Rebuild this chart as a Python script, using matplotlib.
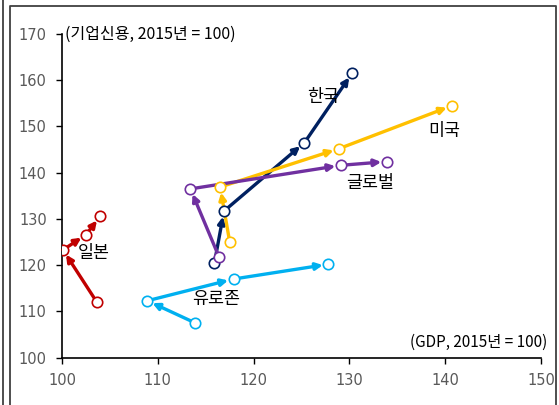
import matplotlib.pyplot as plt
from matplotlib.lines import Line2D

plt.rcParams['font.family'] = ['DejaVu Sans', 'Noto Sans CJK KR']
KR = ['Noto Sans CJK KR', 'DejaVu Sans']

# GDP (x) vs corporate credit (y), 2015 = 100
korea_x = [115.9, 116.9, 125.3, 130.3]
korea_y = [120.4, 131.7, 146.5, 161.6]
usa_x = [117.5, 116.5, 128.9, 140.7]
usa_y = [125.0, 136.9, 145.2, 154.5]
global_x = [116.4, 113.4, 129.1, 133.9]
global_y = [121.7, 136.5, 141.6, 142.4]
japan_x = [103.6, 100.1, 102.5, 104.0]
japan_y = [112.1, 123.3, 126.6, 130.6]
euro_x = [113.9, 108.9, 117.9, 127.8]
euro_y = [107.5, 112.3, 117.0, 120.2]

series = [
    ('한국', korea_x, korea_y, '#002060', (127.2, 156.4)),
    ('미국', usa_x, usa_y, '#FFC000', (139.9, 149.1)),
    ('글로벌', global_x, global_y, '#7030A0', (132.2, 137.8)),
    ('일본', japan_x, japan_y, '#C00000', (103.3, 122.6)),
    ('유로존', euro_x, euro_y, '#00B0F0', (116.1, 112.7)),
]

fig = plt.figure(figsize=(5.59, 4.05), dpi=100)
ax = fig.add_axes([0.111, 0.117, 0.857, 0.799])

for name, xs, ys, c, pos in series:
    for i in range(len(xs) - 1):
        ax.annotate('', xy=(xs[i+1], ys[i+1]), xytext=(xs[i], ys[i]),
                    arrowprops=dict(arrowstyle='-|>', color=c, lw=2.4,
                                    shrinkA=0, shrinkB=4, mutation_scale=10))
    ax.plot(xs, ys, 'o', color=c, markerfacecolor='white', markersize=7.5,
            markeredgewidth=1.2, zorder=5)
    ax.text(pos[0], pos[1], name, fontsize=12.5, ha='center', va='center',
            color='#000000', family=KR)

ax.set_xlim(100, 150)
ax.set_ylim(100, 170)
ax.set_xticks(range(100, 151, 10))
ax.set_yticks(range(100, 171, 10))
ax.tick_params(labelcolor='#595959', labelsize=10.5, length=4, width=1,
               color='black', pad=7)
for s in ['top', 'right']:
    ax.spines[s].set_visible(False)
for s in ['left', 'bottom']:
    ax.spines[s].set_linewidth(1.2)

ax.text(100.3, 170, '(기업신용, 2015년 = 100)', fontsize=11.5, ha='left', va='center', family=KR)
ax.text(150.6, 103.2, '(GDP, 2015년 = 100)', fontsize=11, ha='right', va='center', family=KR)

# outer frame lines
fig.add_artist(Line2D([0.018, 0.018, 0.9946, 0.9946], [0, 0.985, 0.985, 0],
                      transform=fig.transFigure, color='#404040', lw=1.3))
fig.add_artist(Line2D([0.0054, 0.0054], [0, 1], transform=fig.transFigure,
                      color='#404040', lw=1.3))

plt.savefig('out.png', dpi=100)
